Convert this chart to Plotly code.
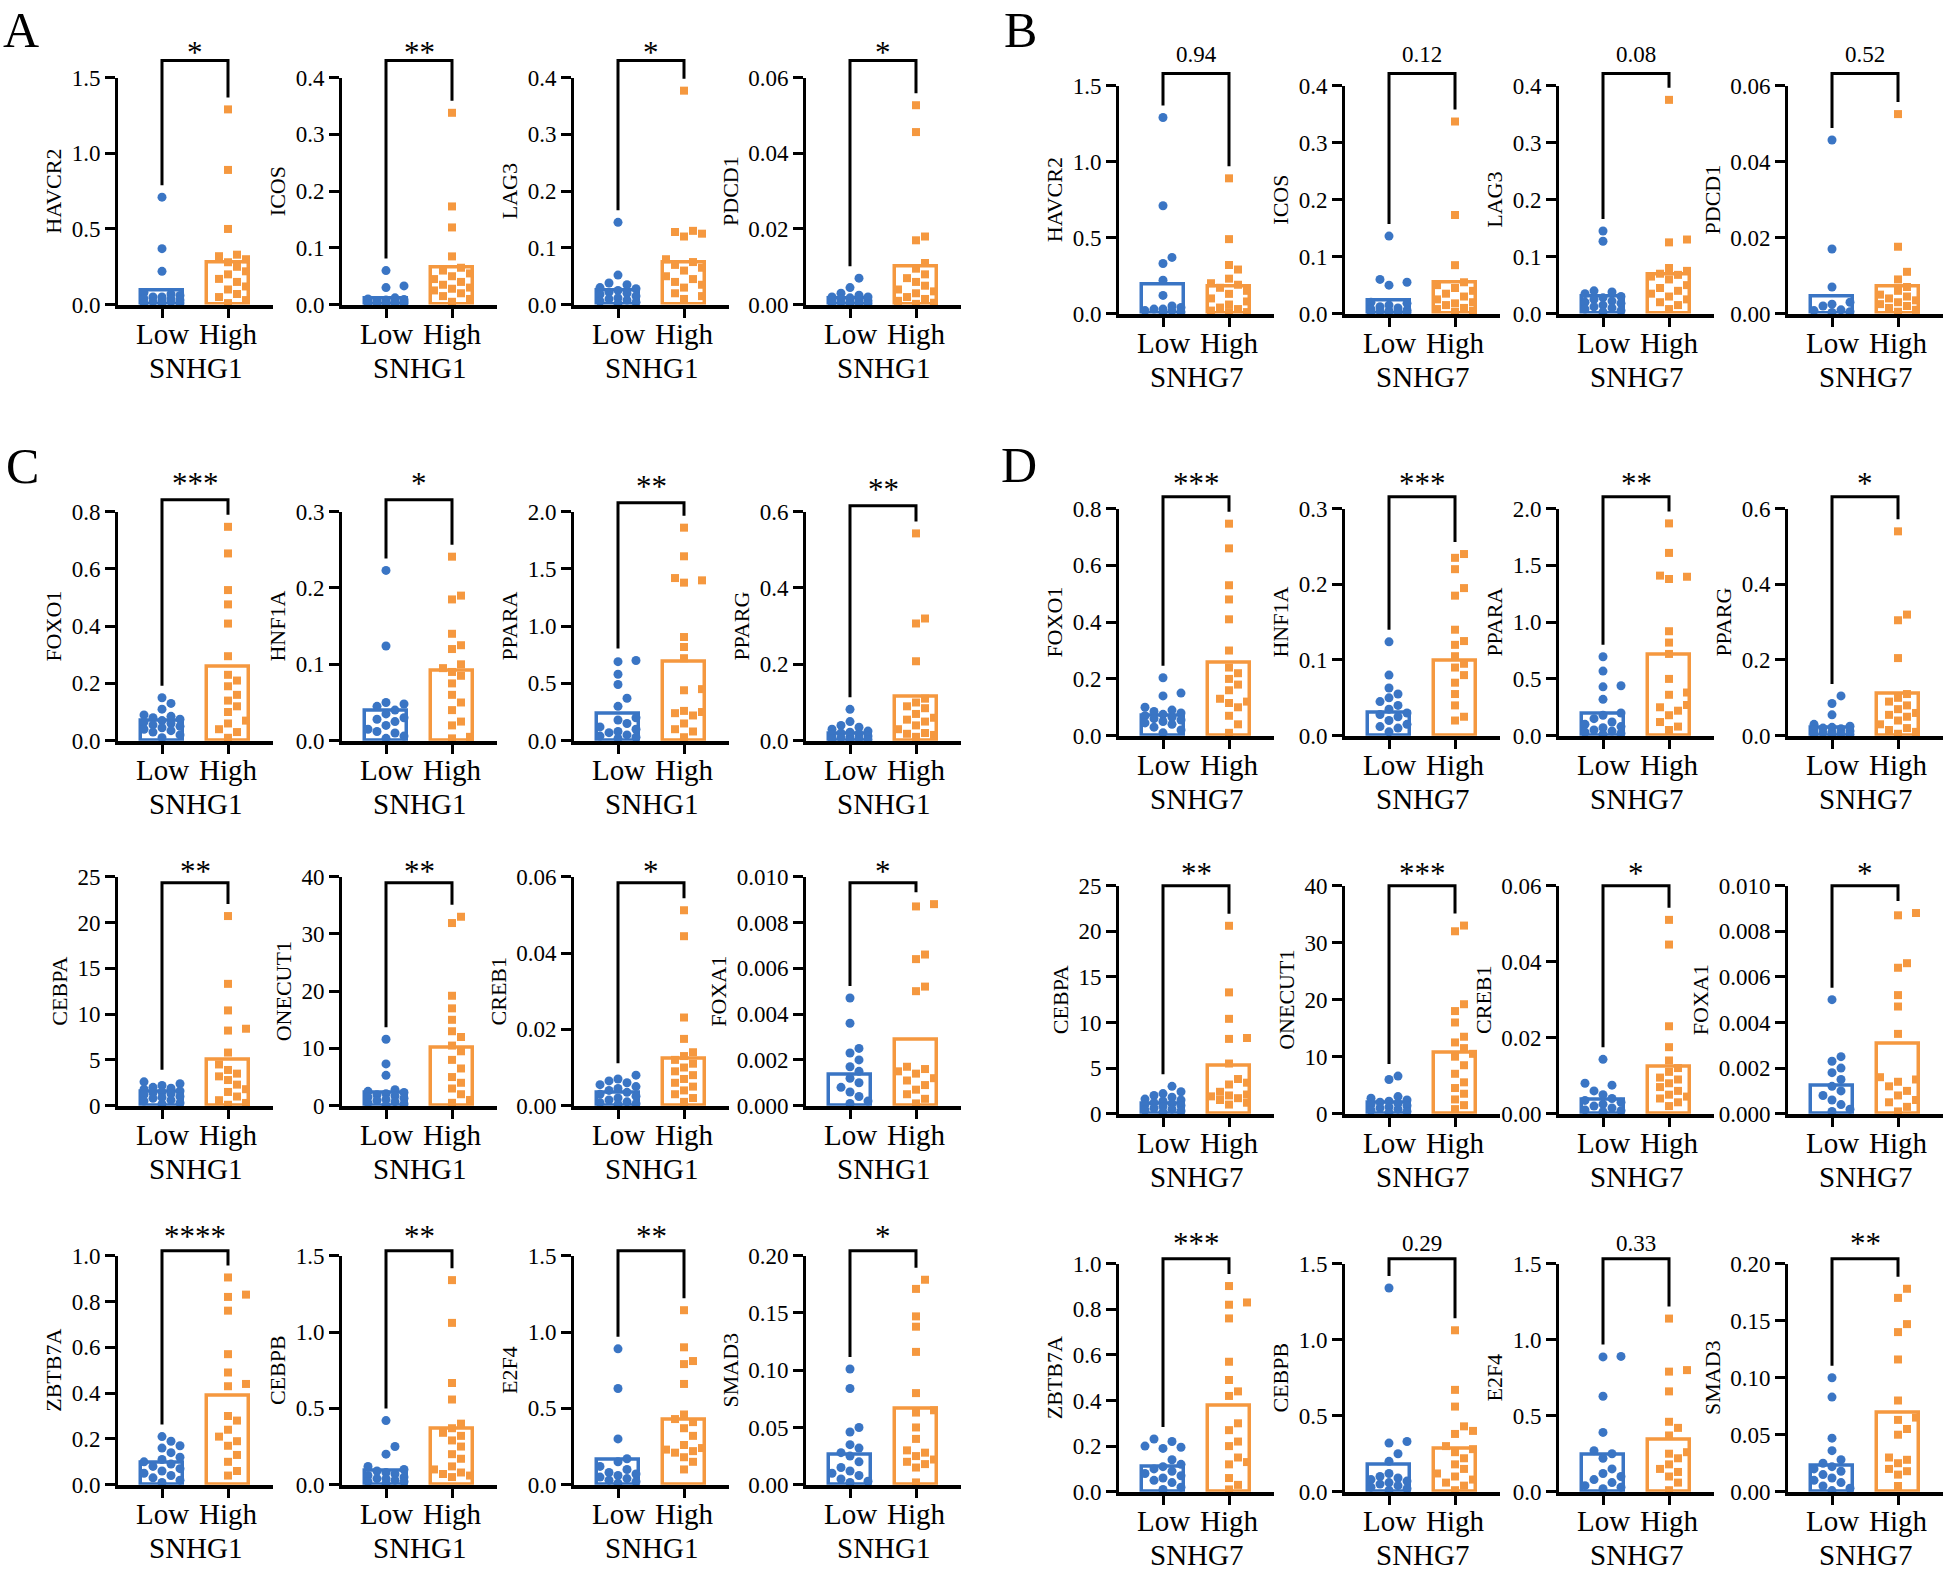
import math
import plotly.graph_objects as go

# ---------------- data ----------------
A_genes = ["HAVCR2", "ICOS", "LAG3", "PDCD1"]
A_ymax = [1.5, 0.4, 0.4, 0.06]
A_dtick = [0.5, 0.1, 0.1, 0.02]
A_sig = ["*", "**", "*", "*"]
A_low_mean = [0.095, 0.011, 0.024, 0.0015]
A_high_mean = [0.278, 0.065, 0.074, 0.010]
A_low = [
    [0.71, 0.37, 0.22, 0.08, 0.07, 0.06, 0.05, 0.05, 0.04, 0.04, 0.03, 0.03, 0.02, 0.02, 0.01, 0.01, 0.01],
    [0.06, 0.033, 0.03, 0.012, 0.010, 0.009, 0.008, 0.007, 0.006, 0.005, 0.005, 0.004, 0.003, 0.003, 0.002, 0.002, 0.001],
    [0.145, 0.052, 0.038, 0.035, 0.030, 0.028, 0.025, 0.022, 0.020, 0.018, 0.015, 0.012, 0.010, 0.008, 0.006, 0.004, 0.002],
    [0.007, 0.0045, 0.003, 0.0025, 0.002, 0.002, 0.0018, 0.0015, 0.0012, 0.001, 0.001, 0.0008, 0.0006, 0.0005, 0.0004, 0.0003, 0.0002],
]
A_high = [
    [1.29, 0.89, 0.50, 0.33, 0.32, 0.30, 0.28, 0.25, 0.22, 0.20, 0.17, 0.15, 0.12, 0.10, 0.07, 0.05, 0.03, 0.01],
    [0.338, 0.173, 0.136, 0.085, 0.065, 0.060, 0.055, 0.050, 0.045, 0.040, 0.035, 0.030, 0.028, 0.025, 0.020, 0.015, 0.010, 0.005],
    [0.377, 0.130, 0.128, 0.125, 0.120, 0.080, 0.075, 0.070, 0.065, 0.060, 0.050, 0.045, 0.040, 0.035, 0.030, 0.020, 0.015, 0.010],
    [0.0527, 0.0456, 0.018, 0.017, 0.011, 0.0095, 0.008, 0.007, 0.006, 0.005, 0.004, 0.0035, 0.003, 0.002, 0.0015, 0.001, 0.0005, 0.0002],
]

B_genes = ["HAVCR2", "ICOS", "LAG3", "PDCD1"]
B_ymax = [1.5, 0.4, 0.4, 0.06]
B_dtick = [0.5, 0.1, 0.1, 0.02]
B_sig = ["0.94", "0.12", "0.08", "0.52"]
B_low_mean = [0.19, 0.022, 0.029, 0.0044]
B_high_mean = [0.18, 0.055, 0.069, 0.007]
B_low = [
    [1.29, 0.71, 0.37, 0.33, 0.22, 0.12, 0.05, 0.04, 0.03, 0.03, 0.02, 0.02, 0.01, 0.01],
    [0.136, 0.060, 0.055, 0.050, 0.020, 0.018, 0.015, 0.012, 0.010, 0.008, 0.006, 0.005, 0.004, 0.003, 0.002, 0.002, 0.001],
    [0.145, 0.127, 0.040, 0.038, 0.035, 0.030, 0.028, 0.025, 0.022, 0.020, 0.018, 0.015, 0.012, 0.010, 0.008, 0.005, 0.003],
    [0.0457, 0.017, 0.007, 0.003, 0.0025, 0.002, 0.001, 0.0008, 0.0005, 0.0003],
]
B_high = [
    [0.89, 0.49, 0.32, 0.29, 0.23, 0.20, 0.19, 0.17, 0.15, 0.13, 0.10, 0.08, 0.06, 0.04, 0.03, 0.02, 0.01, 0.01],
    [0.337, 0.173, 0.085, 0.055, 0.050, 0.045, 0.040, 0.035, 0.030, 0.025, 0.020, 0.018, 0.015, 0.010, 0.008, 0.005, 0.003],
    [0.375, 0.130, 0.125, 0.080, 0.075, 0.070, 0.068, 0.065, 0.060, 0.050, 0.045, 0.040, 0.035, 0.030, 0.025, 0.020, 0.015, 0.008],
    [0.0525, 0.0176, 0.011, 0.009, 0.007, 0.006, 0.005, 0.0045, 0.004, 0.0035, 0.003, 0.0025, 0.002, 0.0015, 0.001, 0.0005],
]

C_genes = ["FOXO1", "HNF1A", "PPARA", "PPARG", "CEBPA", "ONECUT1", "CREB1", "FOXA1",
           "ZBTB7A", "CEBPB", "E2F4", "SMAD3"]
C_ymax = [0.8, 0.3, 2.0, 0.6, 25, 40, 0.06, 0.010, 1.0, 1.5, 1.5, 0.20]
C_dtick = [0.2, 0.1, 0.5, 0.2, 5, 10, 0.02, 0.002, 0.2, 0.5, 0.5, 0.05]
C_sig = ["***", "*", "**", "**", "**", "**", "*", "*", "****", "**", "**", "*"]
C_low_mean = [0.07, 0.039, 0.234, 0.018, 1.5, 2.34, 0.0035, 0.00134, 0.098, 0.092, 0.162, 0.026]
C_high_mean = [0.259, 0.092, 0.686, 0.116, 5.04, 10.1, 0.0124, 0.0029, 0.39, 0.366, 0.427, 0.066]
C_low = [
    [0.15, 0.13, 0.11, 0.09, 0.085, 0.08, 0.075, 0.07, 0.065, 0.06, 0.055, 0.05, 0.045, 0.04, 0.035, 0.03, 0.02, 0.01],
    [0.223, 0.124, 0.05, 0.048, 0.045, 0.04, 0.035, 0.03, 0.028, 0.025, 0.02, 0.015, 0.012, 0.01, 0.006, 0.003],
    [0.70, 0.69, 0.58, 0.49, 0.37, 0.30, 0.20, 0.18, 0.15, 0.12, 0.10, 0.08, 0.07, 0.05, 0.04, 0.03, 0.02],
    [0.082, 0.05, 0.04, 0.035, 0.03, 0.025, 0.022, 0.02, 0.018, 0.015, 0.012, 0.01, 0.008, 0.006, 0.005, 0.003, 0.002],
    [2.6, 2.4, 2.2, 2.0, 1.9, 1.8, 1.6, 1.5, 1.4, 1.3, 1.2, 1.0, 0.9, 0.8, 0.6, 0.5, 0.3, 0.2],
    [11.6, 7.3, 5.3, 2.8, 2.5, 2.3, 2.1, 1.9, 1.7, 1.5, 1.3, 1.1, 0.9, 0.7, 0.5, 0.3, 0.1],
    [0.008, 0.007, 0.0065, 0.006, 0.0055, 0.005, 0.0045, 0.004, 0.0035, 0.003, 0.0025, 0.002, 0.0015, 0.001, 0.0008, 0.0005, 0.0003],
    [0.0047, 0.0036, 0.0025, 0.0023, 0.002, 0.0017, 0.0015, 0.0012, 0.0010, 0.0008, 0.0006, 0.0004, 0.0002, 0.0001],
    [0.21, 0.19, 0.17, 0.16, 0.14, 0.12, 0.11, 0.10, 0.09, 0.08, 0.07, 0.06, 0.05, 0.04, 0.03, 0.02, 0.01],
    [0.42, 0.25, 0.20, 0.12, 0.10, 0.09, 0.08, 0.07, 0.06, 0.05, 0.04, 0.04, 0.03, 0.02, 0.02, 0.01],
    [0.89, 0.63, 0.30, 0.17, 0.15, 0.12, 0.10, 0.08, 0.07, 0.06, 0.05, 0.04, 0.03, 0.02, 0.01],
    [0.101, 0.084, 0.05, 0.046, 0.035, 0.032, 0.028, 0.025, 0.02, 0.015, 0.012, 0.01, 0.008, 0.005, 0.003, 0.002],
]
C_high = [
    [0.747, 0.654, 0.526, 0.476, 0.409, 0.295, 0.23, 0.21, 0.19, 0.16, 0.14, 0.12, 0.10, 0.07, 0.06, 0.04, 0.03, 0.01],
    [0.241, 0.19, 0.185, 0.14, 0.125, 0.12, 0.10, 0.095, 0.09, 0.085, 0.075, 0.06, 0.05, 0.04, 0.025, 0.02, 0.005, 0.003],
    [1.86, 1.61, 1.42, 1.40, 1.38, 0.905, 0.818, 0.72, 0.45, 0.44, 0.26, 0.25, 0.24, 0.22, 0.15, 0.10, 0.08, 0.03],
    [0.543, 0.32, 0.307, 0.208, 0.11, 0.10, 0.09, 0.085, 0.07, 0.06, 0.055, 0.05, 0.04, 0.03, 0.02, 0.018, 0.015, 0.01],
    [20.7, 13.3, 10.4, 8.4, 8.2, 5.8, 4.5, 3.9, 3.5, 3.2, 2.8, 2.3, 1.8, 1.5, 1.0, 0.6, 0.3, 0.1],
    [33.0, 31.9, 19.2, 17.0, 15.0, 13.0, 12.0, 10.5, 9.5, 8.0, 6.5, 5.0, 4.0, 3.0, 2.0, 1.0, 0.5],
    [0.0512, 0.0444, 0.0231, 0.0175, 0.014, 0.013, 0.012, 0.011, 0.010, 0.009, 0.008, 0.007, 0.006, 0.005, 0.004, 0.003, 0.002, 0.001],
    [0.0088, 0.0087, 0.0066, 0.0064, 0.0052, 0.0050, 0.0017, 0.0016, 0.0015, 0.0014, 0.0012, 0.0011, 0.0009, 0.0007, 0.0005, 0.0003, 0.0001],
    [0.905, 0.83, 0.82, 0.76, 0.57, 0.49, 0.44, 0.43, 0.30, 0.28, 0.24, 0.21, 0.19, 0.17, 0.13, 0.10, 0.06, 0.04],
    [1.34, 1.06, 0.666, 0.558, 0.40, 0.37, 0.34, 0.32, 0.29, 0.25, 0.20, 0.17, 0.12, 0.10, 0.08, 0.07, 0.06, 0.05],
    [1.143, 0.90, 0.81, 0.79, 0.66, 0.46, 0.43, 0.41, 0.37, 0.32, 0.26, 0.24, 0.23, 0.22, 0.21, 0.18, 0.15, 0.10],
    [0.179, 0.171, 0.147, 0.138, 0.116, 0.080, 0.065, 0.063, 0.05, 0.04, 0.03, 0.028, 0.025, 0.022, 0.02, 0.018, 0.015, 0.002],
]

D_genes = C_genes
D_ymax = C_ymax
D_dtick = C_dtick
D_sig = ["***", "***", "**", "*", "**", "***", "*", "*", "***", "0.29", "0.33", "**"]
D_low_mean = [0.07, 0.031, 0.196, 0.02, 1.06, 1.93, 0.0037, 0.00124, 0.109, 0.175, 0.245, 0.0225]
D_high_mean = [0.257, 0.099, 0.71, 0.11, 5.22, 10.7, 0.0124, 0.00307, 0.377, 0.28, 0.339, 0.0692]
D_low = [
    [0.204, 0.15, 0.14, 0.10, 0.09, 0.085, 0.08, 0.075, 0.07, 0.065, 0.06, 0.055, 0.05, 0.045, 0.04, 0.03, 0.02, 0.01],
    [0.124, 0.08, 0.063, 0.055, 0.05, 0.045, 0.04, 0.035, 0.03, 0.028, 0.025, 0.02, 0.015, 0.012, 0.01, 0.005],
    [0.695, 0.569, 0.44, 0.43, 0.32, 0.20, 0.18, 0.15, 0.12, 0.10, 0.08, 0.07, 0.05, 0.04, 0.03, 0.02, 0.01],
    [0.105, 0.085, 0.055, 0.03, 0.025, 0.022, 0.02, 0.018, 0.015, 0.012, 0.01, 0.008, 0.006, 0.005, 0.003, 0.002],
    [3.0, 2.4, 2.2, 2.0, 1.8, 1.6, 1.5, 1.4, 1.2, 1.1, 1.0, 0.9, 0.8, 0.6, 0.5, 0.4, 0.3, 0.2],
    [6.6, 6.0, 3.0, 2.7, 2.4, 2.2, 2.0, 1.8, 1.6, 1.4, 1.2, 1.0, 0.8, 0.6, 0.4, 0.2],
    [0.0143, 0.008, 0.0075, 0.006, 0.005, 0.004, 0.0035, 0.003, 0.0025, 0.002, 0.0015, 0.001, 0.0008, 0.0005],
    [0.005, 0.0025, 0.0023, 0.002, 0.0018, 0.0015, 0.0012, 0.001, 0.0008, 0.0006, 0.0004, 0.0002, 0.0001],
    [0.231, 0.22, 0.20, 0.195, 0.19, 0.14, 0.12, 0.11, 0.10, 0.09, 0.08, 0.07, 0.06, 0.05, 0.04, 0.02, 0.01],
    [1.34, 0.33, 0.32, 0.25, 0.20, 0.12, 0.10, 0.09, 0.08, 0.07, 0.06, 0.05, 0.04, 0.03, 0.02, 0.01],
    [0.89, 0.887, 0.628, 0.39, 0.27, 0.25, 0.22, 0.15, 0.12, 0.10, 0.08, 0.06, 0.04, 0.03, 0.02],
    [0.100, 0.083, 0.047, 0.036, 0.028, 0.025, 0.022, 0.02, 0.018, 0.015, 0.012, 0.01, 0.008, 0.005, 0.003, 0.001],
]
D_high = [
    [0.747, 0.66, 0.53, 0.48, 0.41, 0.30, 0.24, 0.22, 0.20, 0.18, 0.16, 0.13, 0.12, 0.115, 0.10, 0.07, 0.04, 0.01],
    [0.24, 0.235, 0.22, 0.195, 0.185, 0.14, 0.125, 0.12, 0.105, 0.095, 0.09, 0.08, 0.07, 0.055, 0.04, 0.025, 0.02],
    [1.87, 1.61, 1.41, 1.40, 1.38, 0.92, 0.82, 0.72, 0.50, 0.38, 0.36, 0.27, 0.25, 0.22, 0.18, 0.12, 0.08, 0.05],
    [0.54, 0.32, 0.305, 0.205, 0.11, 0.10, 0.09, 0.08, 0.07, 0.06, 0.055, 0.05, 0.04, 0.03, 0.02, 0.015, 0.01, 0.005],
    [20.6, 13.3, 10.4, 8.3, 8.2, 5.5, 3.8, 3.4, 3.2, 2.4, 2.1, 2.0, 1.9, 1.7, 1.5, 1.2, 1.0],
    [33.0, 32.0, 19.2, 18.0, 16.0, 13.5, 12.5, 11.5, 10.5, 10.0, 8.5, 7.0, 5.5, 4.5, 3.5, 2.5, 1.5, 0.8],
    [0.051, 0.0445, 0.023, 0.0175, 0.014, 0.012, 0.011, 0.0095, 0.009, 0.008, 0.007, 0.006, 0.005, 0.0045, 0.004, 0.003, 0.002],
    [0.0088, 0.0087, 0.0066, 0.0064, 0.0052, 0.0047, 0.0035, 0.0016, 0.0015, 0.0014, 0.0012, 0.001, 0.0008, 0.0006, 0.0005, 0.0003, 0.0001],
    [0.902, 0.83, 0.82, 0.76, 0.57, 0.49, 0.44, 0.42, 0.30, 0.27, 0.22, 0.20, 0.15, 0.13, 0.12, 0.06, 0.03, 0.01],
    [1.062, 0.67, 0.56, 0.43, 0.40, 0.38, 0.30, 0.28, 0.26, 0.22, 0.18, 0.15, 0.12, 0.10, 0.08, 0.06, 0.04, 0.01],
    [1.139, 0.80, 0.79, 0.66, 0.46, 0.42, 0.37, 0.26, 0.25, 0.22, 0.18, 0.15, 0.13, 0.10, 0.06, 0.01],
    [0.178, 0.17, 0.147, 0.14, 0.116, 0.08, 0.065, 0.063, 0.055, 0.05, 0.03, 0.028, 0.025, 0.02, 0.018, 0.015, 0.005],
]

GROUPS = ["Low", "High"]

# ---------------- style / layout ----------------
W, H = 1944, 1570
FONT = "Liberation Serif"
BLUE = "#3A75C4"
ORANGE = "#F5983F"
LEFT_COLS = [118, 342, 574, 806]      # px of the y-axis lines
RIGHT_COLS = [1119, 1345, 1559, 1788]
XW = 155
PX_PER_CAT = 66.0
X0 = -44 / PX_PER_CAT
# vertical calibration of the photographed page (observed offset / scale)
Y_OFF, Y_SCALE = 13.4, 0.984

ROWS = {
    "A": [(79, 306)],
    "B": [(87, 315)],
    "C": [(513, 742), (878, 1107), (1257, 1486)],
    "D": [(510, 737), (887, 1115), (1265, 1493)],
}
BRACKET_OFF = {
    "A": [[17, 17, 17, 17]],
    "B": [[12, 12, 12, 12]],
    "C": [[12, 12, 9, 6], [-6, -6, -6, -6], [5, 5, 5, 5]],
    "D": [[12, 12, 12, 12], [0, 0, 0, 0], [5, 5, 5, 5]],
}
SIG_OFF = {"A": [8], "B": [19], "C": [16, 11, 14], "D": [13, 12, 15]}


def PX(sx):
    return min(1.0, max(0.0, sx / W))


def PY(sy):
    fy = (sy - Y_OFF) / Y_SCALE
    return min(1.0, max(0.0, 1 - fy / H))


fig = go.Figure()
axes = {}
shapes = []
annotations = []
counter = [0]


def swarm(vals, center, ymax, hpx, d=9.5, step_px=9.0, maxoff_px=18.0):
    xs = [0.0] * len(vals)
    placed = []
    order = sorted(range(len(vals)), key=lambda i: vals[i])
    cands = [0, 1, -1, 2, -2]
    for i in order:
        ypx = vals[i] / ymax * hpx
        best, bestscore = 0.0, -1.0
        for c in cands:
            xo = c * step_px
            if abs(xo) > maxoff_px + 1e-9:
                continue
            mind = min([math.hypot(xo - px, ypx - py) for px, py in placed], default=1e9)
            if mind >= d:
                best = xo
                break
            if mind > bestscore:
                bestscore, best = mind, xo
        placed.append((best, ypx))
        xs[i] = center + best / PX_PER_CAT
    return xs


def add_plot(gene, low, high, lm, hm, ymax, dtick, sig, left_px, top_px, zero_px, boff, soff, xtitle):
    counter[0] += 1
    k = counter[0]
    sfx = "" if k == 1 else str(k)
    xa, ya = "x" + sfx, "y" + sfx
    hpx = zero_px - top_px
    xw = min(XW, W - left_px)
    xr = [X0, X0 + xw / PX_PER_CAT]
    dec = max(0, -math.floor(math.log10(dtick) + 1e-9))
    axes["xaxis" + sfx] = dict(
        domain=[PX(left_px), PX(left_px + xw)], range=xr, anchor=ya,
        tickmode="array", tickvals=[0, 1], showticklabels=False,
        showline=True, linewidth=4, linecolor="black",
        ticks="outside", ticklen=9, tickwidth=3, tickcolor="black",
        showgrid=False, zeroline=False, fixedrange=True,
    )
    axes["yaxis" + sfx] = dict(
        domain=[PY(zero_px), PY(top_px)], range=[0, ymax], anchor=xa,
        tickmode="linear", tick0=0, dtick=dtick, tickformat=".%df" % dec,
        showline=True, linewidth=3, linecolor="black",
        ticks="outside", ticklen=10, tickwidth=2.5, tickcolor="black",
        tickfont=dict(family=FONT, size=23, color="black"),
        title=dict(text=gene, font=dict(family=FONT, size=22, color="black"), standoff=4),
        showgrid=False, zeroline=False, fixedrange=True,
    )
    fig.add_trace(go.Bar(
        x=[0, 1], y=[lm, hm], width=0.65, xaxis=xa, yaxis=ya,
        marker=dict(color="rgba(255,255,255,0)", line=dict(color=[BLUE, ORANGE], width=3.5)),
        showlegend=False, hoverinfo="skip",
    ))
    fig.add_trace(go.Scatter(
        x=swarm(low, 0, ymax, hpx), y=low, mode="markers", xaxis=xa, yaxis=ya,
        marker=dict(symbol="circle", size=9, color=BLUE), cliponaxis=False, showlegend=False,
    ))
    fig.add_trace(go.Scatter(
        x=swarm(high, 1, ymax, hpx), y=high, mode="markers", xaxis=xa, yaxis=ya,
        marker=dict(symbol="square", size=8, color=ORANGE), cliponaxis=False, showlegend=False,
    ))

    def xpx(v):
        return left_px + (v - xr[0]) * PX_PER_CAT

    def ypx(v):
        return zero_px - v / ymax * hpx

    # category labels and group title
    for ci, lab in enumerate(GROUPS):
        annotations.append(dict(
            x=PX(xpx(ci)), y=PY(zero_px + 29), xref="paper", yref="paper",
            xanchor="center", yanchor="middle", text=lab, showarrow=False,
            font=dict(family=FONT, size=29, color="black")))
    annotations.append(dict(
        x=PX(xpx(0.5)), y=PY(zero_px + 63), xref="paper", yref="paper",
        xanchor="center", yanchor="middle", text=xtitle, showarrow=False,
        font=dict(family=FONT, size=29, color="black")))

    # significance bracket
    btop = top_px - boff
    yl = ypx(max(low)) - 12
    yh = ypx(max(high)) - 12
    path = "M %.5f,%.5f L %.5f,%.5f L %.5f,%.5f L %.5f,%.5f" % (
        PX(xpx(0)), PY(yl), PX(xpx(0)), PY(btop),
        PX(xpx(1)), PY(btop), PX(xpx(1)), PY(yh))
    shapes.append(dict(type="path", path=path, xref="paper", yref="paper",
                       line=dict(color="black", width=3)))
    is_star = sig.startswith("*")
    annotations.append(dict(
        x=PX(xpx(0.5)), y=PY(btop - soff),
        xref="paper", yref="paper", xanchor="center", yanchor="middle",
        text=sig, showarrow=False,
        font=dict(family=FONT, size=31 if is_star else 23, color="black"),
    ))


for panel, genes, ymaxs, dticks, sigs, lows, highs, lms, hms, cols, xt in [
    ("A", A_genes, A_ymax, A_dtick, A_sig, A_low, A_high, A_low_mean, A_high_mean, LEFT_COLS, "SNHG1"),
    ("B", B_genes, B_ymax, B_dtick, B_sig, B_low, B_high, B_low_mean, B_high_mean, RIGHT_COLS, "SNHG7"),
    ("C", C_genes, C_ymax, C_dtick, C_sig, C_low, C_high, C_low_mean, C_high_mean, LEFT_COLS, "SNHG1"),
    ("D", D_genes, D_ymax, D_dtick, D_sig, D_low, D_high, D_low_mean, D_high_mean, RIGHT_COLS, "SNHG7"),
]:
    for i, g in enumerate(genes):
        r, c = divmod(i, 4)
        top, zero = ROWS[panel][r]
        add_plot(g, lows[i], highs[i], lms[i], hms[i], ymaxs[i], dticks[i], sigs[i],
                 cols[c], top, zero, BRACKET_OFF[panel][r][c], SIG_OFF[panel][r], xt)

for letter, (lx, ly) in {"A": (21, 31), "B": (1020, 31), "C": (22, 467), "D": (1019, 466)}.items():
    annotations.append(dict(x=PX(lx), y=PY(ly), xref="paper", yref="paper",
                            xanchor="center", yanchor="middle", text=letter, showarrow=False,
                            font=dict(family=FONT, size=50, color="black")))

fig.update_layout(
    width=W, height=H, margin=dict(l=0, r=0, t=0, b=0),
    paper_bgcolor="white", plot_bgcolor="white",
    barmode="overlay", bargap=0,
    shapes=shapes, annotations=annotations,
    **axes,
)
fig.write_html(
    "out.html",
    config={"displayModeBar": False},
    post_script=("document.documentElement.style.margin='0';document.body.style.margin='0';"
                 "document.documentElement.style.overflow='hidden';document.body.style.overflow='hidden';"),
)
